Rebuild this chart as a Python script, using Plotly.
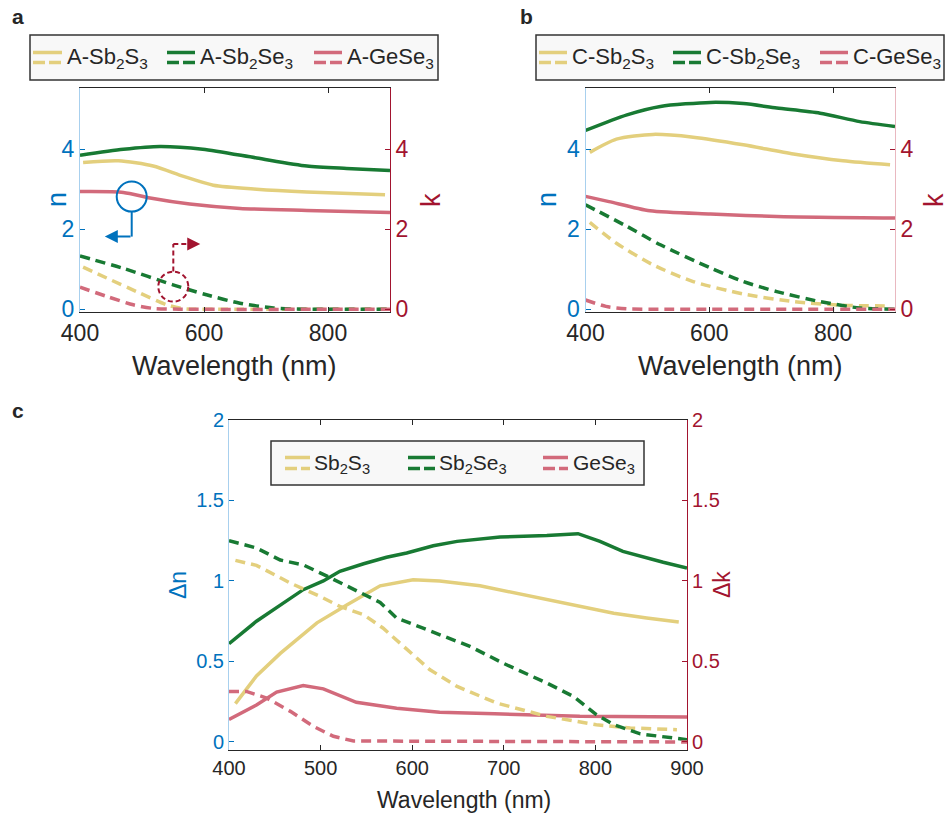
import plotly.graph_objects as go

W, H = 947, 819
FONT = "Liberation Sans, Arial, sans-serif"

YEL = "#E3CF7D"
GRN = "#187A33"
PNK = "#D26A7B"
BLUE = "#0072BD"
RED = "#A2142F"
DARK = "#262626"

# ---------------- data: panel a (amorphous) ----------------
a_sb2s3_n_wl = [405, 462, 518, 567, 615, 685, 766, 892]
a_sb2s3_n = [3.67, 3.71, 3.58, 3.32, 3.10, 3.00, 2.93, 2.86]
a_sb2se3_n_wl = [400, 470, 529, 598, 685, 766, 830, 900]
a_sb2se3_n = [3.85, 4.00, 4.07, 4.00, 3.78, 3.58, 3.52, 3.47]
a_gese3_n_wl = [400, 470, 513, 577, 658, 766, 900]
a_gese3_n = [2.94, 2.92, 2.78, 2.63, 2.52, 2.47, 2.42]
a_sb2s3_k_wl = [405, 443, 497, 540, 567, 620, 895]
a_sb2s3_k = [1.05, 0.78, 0.40, 0.11, 0.01, 0.0, 0.0]
a_sb2se3_k_wl = [400, 470, 550, 604, 658, 712, 760, 900]
a_sb2se3_k = [1.33, 1.02, 0.61, 0.36, 0.15, 0.03, 0.0, 0.0]
a_gese3_k_wl = [400, 443, 486, 518, 560, 900]
a_gese3_k = [0.55, 0.32, 0.11, 0.02, 0.0, 0.0]

# ---------------- data: panel b (crystalline) ----------------
b_sb2s3_n_wl = [407, 450, 509, 574, 655, 736, 816, 892]
b_sb2s3_n = [3.92, 4.25, 4.37, 4.30, 4.11, 3.88, 3.71, 3.61]
b_sb2se3_n_wl = [400, 467, 521, 602, 655, 709, 779, 843, 900]
b_sb2se3_n = [4.47, 4.86, 5.07, 5.17, 5.14, 5.03, 4.90, 4.69, 4.57]
b_gese3_n_wl = [400, 438, 504, 602, 709, 900]
b_gese3_n = [2.82, 2.69, 2.46, 2.38, 2.32, 2.28]
b_sb2s3_k_wl = [407, 450, 509, 574, 655, 736, 816, 892]
b_sb2s3_k = [2.17, 1.65, 1.11, 0.69, 0.38, 0.19, 0.10, 0.08]
b_sb2se3_k_wl = [400, 467, 521, 602, 655, 709, 779, 843, 900]
b_sb2se3_k = [2.61, 2.07, 1.61, 1.03, 0.69, 0.44, 0.19, 0.03, 0.0]
b_gese3_k_wl = [400, 433, 466, 520, 900]
b_gese3_k = [0.23, 0.07, 0.01, 0.0, 0.0]

# ---------------- data: panel c (contrast) ----------------
c_sb2s3_dn_wl = [407, 430, 456, 496, 529, 565, 601, 630, 674, 729, 783, 820, 856, 891]
c_sb2s3_dn = [0.238, 0.41, 0.55, 0.74, 0.853, 0.97, 1.008, 1.0, 0.97, 0.905, 0.84, 0.80, 0.77, 0.745]
c_sb2se3_dn_wl = [400, 430, 456, 481, 503, 521, 547, 572, 594, 623, 649, 696, 747, 781, 805, 830, 874, 900]
c_sb2se3_dn = [0.61, 0.75, 0.85, 0.946, 1.0, 1.06, 1.107, 1.147, 1.174, 1.219, 1.246, 1.273, 1.283, 1.294, 1.246, 1.184, 1.116, 1.08]
c_gese3_dn_wl = [400, 430, 452, 481, 503, 539, 583, 630, 690, 783, 900]
c_gese3_dn = [0.14, 0.23, 0.31, 0.35, 0.33, 0.246, 0.21, 0.184, 0.175, 0.159, 0.155]
c_sb2s3_dk_wl = [407, 430, 467, 499, 521, 547, 568, 594, 619, 649, 692, 747, 801, 838, 889]
c_sb2s3_dk = [1.128, 1.097, 0.987, 0.905, 0.842, 0.79, 0.708, 0.573, 0.45, 0.345, 0.242, 0.159, 0.107, 0.087, 0.076]
c_sb2se3_dk_wl = [400, 430, 456, 481, 507, 536, 565, 583, 630, 663, 699, 747, 776, 801, 820, 849, 900]
c_sb2se3_dk = [1.25, 1.205, 1.13, 1.10, 1.03, 0.946, 0.867, 0.77, 0.666, 0.594, 0.49, 0.366, 0.283, 0.17, 0.107, 0.05, 0.014]
c_gese3_dk_wl = [400, 419, 441, 467, 492, 514, 536, 900]
c_gese3_dk = [0.314, 0.314, 0.273, 0.19, 0.097, 0.035, 0.006, 0.0]

ab_ticks = [0, 2, 4]
ab_xticks = [400, 600, 800]
c_yticks = [0, 0.5, 1, 1.5, 2]
c_yticklabels = ["0", "0.5", "1", "1.5", "2"]
c_xticks = [400, 500, 600, 700, 800, 900]

LW = 3.5
DASH = "10px,6px"

fig = go.Figure()


def add(x, y, color, xa, ya, dash="solid", shape="spline"):
    fig.add_trace(go.Scatter(
        x=x, y=y, mode="lines", xaxis=xa, yaxis=ya, showlegend=False,
        line=dict(color=color, width=LW, dash=dash, shape=shape,
                  smoothing=0.7 if shape == "spline" else None),
        hoverinfo="skip"))


# panel a
add(a_sb2s3_n_wl, a_sb2s3_n, YEL, "x", "y")
add(a_sb2se3_n_wl, a_sb2se3_n, GRN, "x", "y")
add(a_gese3_n_wl, a_gese3_n, PNK, "x", "y")
add(a_sb2s3_k_wl, a_sb2s3_k, YEL, "x", "y2", DASH)
add(a_sb2se3_k_wl, a_sb2se3_k, GRN, "x", "y2", DASH)
add(a_gese3_k_wl, a_gese3_k, PNK, "x", "y2", DASH)
# panel b
add(b_sb2s3_n_wl, b_sb2s3_n, YEL, "x2", "y3")
add(b_sb2se3_n_wl, b_sb2se3_n, GRN, "x2", "y3")
add(b_gese3_n_wl, b_gese3_n, PNK, "x2", "y3")
add(b_sb2s3_k_wl, b_sb2s3_k, YEL, "x2", "y4", DASH)
add(b_sb2se3_k_wl, b_sb2se3_k, GRN, "x2", "y4", DASH)
add(b_gese3_k_wl, b_gese3_k, PNK, "x2", "y4", DASH)
# panel c
add(c_sb2s3_dn_wl, c_sb2s3_dn, YEL, "x3", "y5", shape="linear")
add(c_sb2se3_dn_wl, c_sb2se3_dn, GRN, "x3", "y5", shape="linear")
add(c_gese3_dn_wl, c_gese3_dn, PNK, "x3", "y5", shape="linear")
add(c_sb2s3_dk_wl, c_sb2s3_dk, YEL, "x3", "y6", DASH, "linear")
add(c_sb2se3_dk_wl, c_sb2se3_dk, GRN, "x3", "y6", DASH, "linear")
add(c_gese3_dk_wl, c_gese3_dk, PNK, "x3", "y6", DASH, "linear")


def px(x):
    return x / W


def py(y):
    return 1 - y / H


def xax(domain, anchor, ticks, size):
    return dict(domain=domain, anchor=anchor, range=[400, 900], tickmode="array",
                tickvals=ticks, ticks="inside", ticklen=5, tickcolor=DARK,
                showline=True, linecolor=DARK, linewidth=1, mirror="ticks",
                showgrid=False, zeroline=False, automargin=False,
                tickfont=dict(family=FONT, size=size, color=DARK))


def yax(domain, anchor, rng, ticks, labels, color, linecolor, size, side="left", overlay=None):
    d = dict(anchor=anchor, range=rng, tickmode="array", tickvals=ticks, ticktext=labels,
             ticks="inside", ticklen=5, tickcolor=color, showline=True,
             linecolor=linecolor, linewidth=1, showgrid=False, zeroline=False,
             automargin=False, side=side, tickfont=dict(family=FONT, size=size, color=color))
    if overlay:
        d["overlaying"] = overlay
    else:
        d["domain"] = domain
    return d


ab_y = [py(312), py(88)]
ab_rng = [-0.07, 5.53]
ab_lab = [str(t) for t in ab_ticks]
c_y = [py(750), py(420)]

fig.update_layout(
    template="none",
    width=W, height=H, autosize=False, margin=dict(l=0, r=0, t=0, b=0, pad=0),
    paper_bgcolor="white", plot_bgcolor="white", showlegend=False,
    font=dict(family=FONT, color=DARK),
    xaxis=xax([px(80), px(390)], "y", ab_xticks, 23),
    yaxis=yax(ab_y, "x", ab_rng, ab_ticks, ab_lab, BLUE, "#A8D0EE", 23),
    yaxis2=yax(None, "x", ab_rng, ab_ticks, ab_lab, RED, RED, 23, "right", "y"),
    xaxis2=xax([px(585.5), px(895)], "y3", ab_xticks, 23),
    yaxis3=yax(ab_y, "x2", ab_rng, ab_ticks, ab_lab, BLUE, "#A8D0EE", 23),
    yaxis4=yax(None, "x2", ab_rng, ab_ticks, ab_lab, RED, "#E9B8C0", 23, "right", "y3"),
    xaxis3=xax([px(229), px(687)], "y5", c_xticks, 20),
    yaxis5=yax(c_y, "x3", [-0.05, 2.0], c_yticks, c_yticklabels, BLUE, "#A8D0EE", 20),
    yaxis6=yax(None, "x3", [-0.05, 2.0], c_yticks, c_yticklabels, RED, RED, 20, "right", "y5"),
)

shapes = []
annots = []


def text(x, y, s, size, color=DARK, angle=0, xanchor="center", bold=False):
    annots.append(dict(x=px(x), y=py(y), xref="paper", yref="paper", text=(f"<b>{s}</b>" if bold else s),
                       showarrow=False, textangle=angle, xanchor=xanchor, yanchor="middle",
                       font=dict(family=FONT, size=size, color=color)))


# panel labels
text(18, 16, "a", 21, bold=True)
text(526, 16, "b", 21, bold=True)
text(18, 410, "c", 21, bold=True)

# axis titles
text(234, 366, "Wavelength (nm)", 27)
text(740, 366, "Wavelength (nm)", 27)
text(464, 800, "Wavelength (nm)", 23)
text(57, 200, "n", 27, BLUE, -90)
text(431, 200, "k", 27, RED, -90)
text(547, 200, "n", 27, BLUE, -90)
text(934, 200, "k", 27, RED, -90)
text(178, 585, "Δn", 23, BLUE, -90)
text(722, 585, "Δk", 23, RED, -90)


def legend(box, entries, y_solid, y_dash, y_text, size):
    x0, y0, x1, y1 = box
    shapes.append(dict(type="rect", xref="paper", yref="paper", x0=px(x0), x1=px(x1),
                       y0=py(y1), y1=py(y0), fillcolor="#F8F8F8",
                       line=dict(color="#333333", width=1.5), layer="above"))
    for sx0, sx1, tx, color, label in entries:
        shapes.append(dict(type="line", xref="paper", yref="paper", x0=px(sx0), x1=px(sx1),
                           y0=py(y_solid), y1=py(y_solid), line=dict(color=color, width=LW), layer="above"))
        shapes.append(dict(type="line", xref="paper", yref="paper", x0=px(sx0), x1=px(sx1),
                           y0=py(y_dash), y1=py(y_dash), line=dict(color=color, width=LW, dash="12px,4px"),
                           layer="above"))
        text(tx, y_text, label, size, xanchor="left")


legend((30, 35, 438, 80), [
    (33, 62, 65, YEL, "A-Sb<sub>2</sub>S<sub>3</sub>"),
    (167, 195, 198, GRN, "A-Sb<sub>2</sub>Se<sub>3</sub>"),
    (314, 342, 345, PNK, "A-GeSe<sub>3</sub>"),
], 52.5, 62.5, 58, 22)

legend((536, 35, 944, 80), [
    (539, 567, 570, YEL, "C-Sb<sub>2</sub>S<sub>3</sub>"),
    (673, 701, 704, GRN, "C-Sb<sub>2</sub>Se<sub>3</sub>"),
    (820, 848, 851, PNK, "C-GeSe<sub>3</sub>"),
], 52.5, 62.5, 58, 22)

legend((271, 441, 644, 485), [
    (285, 310, 312, YEL, "Sb<sub>2</sub>S<sub>3</sub>"),
    (408, 435, 437, GRN, "Sb<sub>2</sub>Se<sub>3</sub>"),
    (543, 568, 571, PNK, "GeSe<sub>3</sub>"),
], 457.5, 468.5, 464, 21)

# indicator circles and arrows in panel a (data coords)
bc_x, bc_y, rx, ry = 483.4, 2.815, 24.2, 0.375
shapes.append(dict(type="circle", xref="x", yref="y", x0=bc_x - rx, x1=bc_x + rx,
                   y0=bc_y - ry, y1=bc_y + ry, line=dict(color=BLUE, width=2)))
shapes.append(dict(type="line", xref="x", yref="y", x0=bc_x, x1=bc_x, y0=bc_y - ry, y1=1.815,
                   line=dict(color=BLUE, width=2)))
annots.append(dict(x=440, y=1.815, ax=bc_x + 0.5, ay=1.815, xref="x", yref="y", axref="x", ayref="y",
                   text="", showarrow=True, arrowhead=2, arrowsize=1.3, arrowwidth=2, arrowcolor=BLUE))
rc_x, rc_y = 550.5, 0.565
shapes.append(dict(type="circle", xref="x", yref="y2", x0=rc_x - rx, x1=rc_x + rx,
                   y0=rc_y - ry, y1=rc_y + ry, line=dict(color=RED, width=2, dash="5px,3px")))
shapes.append(dict(type="line", xref="x", yref="y2", x0=rc_x, x1=rc_x, y0=rc_y + ry, y1=1.63,
                   line=dict(color=RED, width=2, dash="5px,3px")))
shapes.append(dict(type="line", xref="x", yref="y2", x0=rc_x, x1=580, y0=1.63, y1=1.63,
                   line=dict(color=RED, width=2, dash="5px,3px")))
annots.append(dict(x=594, y=1.63, ax=578, ay=1.63, xref="x", yref="y2", axref="x", ayref="y2",
                   text="", showarrow=True, arrowhead=2, arrowsize=1.3, arrowwidth=2, arrowcolor=RED))

fig.update_layout(shapes=shapes, annotations=annots)
fig.write_html("out.html", config={"displayModeBar": False},
               post_script="document.body.style.margin='0';document.body.style.overflow='hidden';")
